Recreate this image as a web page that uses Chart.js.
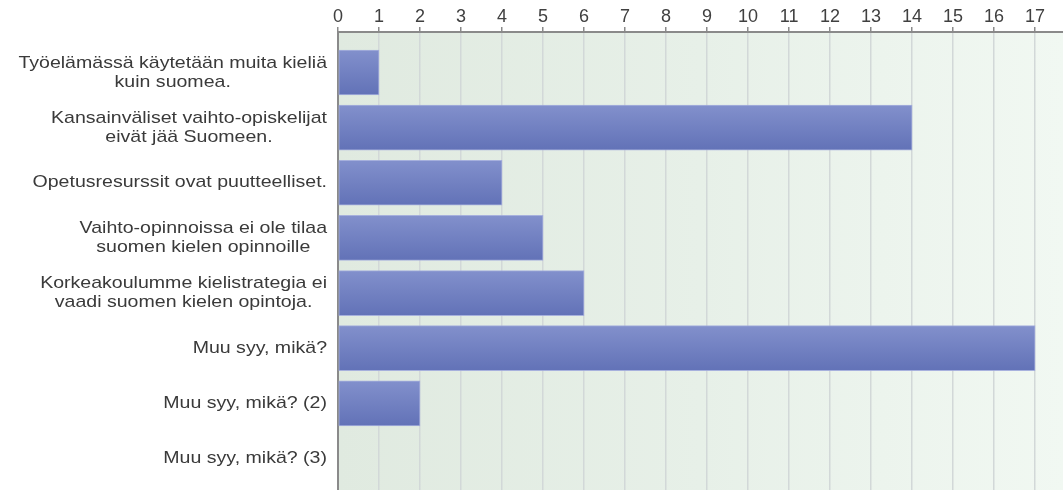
<!DOCTYPE html>
<html>
<head>
<meta charset="utf-8">
<script src="https://cdn.jsdelivr.net/npm/chart.js@4/dist/chart.umd.min.js"></script>
<style>
  html, body { margin: 0; padding: 0; background: #ffffff; }
  #wrap { width: 1063px; height: 490px; }
</style>
</head>
<body>
<div id="wrap"><canvas id="c" width="1063" height="490"></canvas></div>
<script>
// Answer options (each entry holds the lines of one label)
const categories = [
  ["Työelämässä käytetään muita kieliä", "kuin suomea."],
  ["Kansainväliset vaihto-opiskelijat", "eivät jää Suomeen."],
  ["Opetusresurssit ovat puutteelliset."],
  ["Vaihto-opinnoissa ei ole tilaa", "suomen kielen opinnoille"],
  ["Korkeakoulumme kielistrategia ei", "vaadi suomen kielen opintoja."],
  ["Muu syy, mikä?"],
  ["Muu syy, mikä? (2)"],
  ["Muu syy, mikä? (3)"]
];

// Number of responses per option
const counts = [1, 14, 4, 5, 6, 17, 2, 0];

// Value-axis ticks
const xTicks = [0, 1, 2, 3, 4, 5, 6, 7, 8, 9, 10, 11, 12, 13, 14, 15, 16, 17];

const points = counts.map((v, i) => ({ x: v, y: i }));

// Soft green plot background, lighter towards the right
const plotBackground = {
  id: 'plotBackground',
  beforeDraw(chart) {
    const { ctx, chartArea: a } = chart;
    const g = ctx.createLinearGradient(a.left, 0, a.right, 0);
    g.addColorStop(0, '#e0eae0');
    g.addColorStop(0.5, '#e7f0e8');
    g.addColorStop(1, '#f1f8f2');
    ctx.save();
    ctx.fillStyle = g;
    ctx.fillRect(a.left, a.top, a.right - a.left, a.bottom - a.top);
    ctx.restore();
  }
};

// Category labels: right-aligned blocks, lines centred within each block
const categoryLabels = {
  id: 'categoryLabels',
  afterDraw(chart) {
    const { ctx } = chart;
    const y = chart.scales.y;
    const right = 327;
    const sx = 1.15;
    const lineGap = 19;
    ctx.save();
    ctx.font = '17px "Liberation Sans", Arial, sans-serif';
    ctx.fillStyle = '#3a3a3a';
    ctx.textAlign = 'center';
    ctx.textBaseline = 'middle';
    categories.forEach((lines, i) => {
      const cy = y.getPixelForValue(i);
      const w = Math.max(...lines.map(l => ctx.measureText(l).width)) * sx;
      const cx = right - w / 2;
      lines.forEach((line, k) => {
        const ly = cy + (k - (lines.length - 1) / 2) * lineGap;
        ctx.save();
        ctx.translate(cx, ly);
        ctx.scale(sx, 1);
        ctx.fillText(line, 0, 0);
        ctx.restore();
      });
    });
    ctx.restore();
  }
};

// Vertical blue gradient for each bar, spanning the bar's own thickness
function barGradient(context) {
  const chart = context.chart;
  const ys = chart.scales && chart.scales.y;
  const fallback = '#7382c2';
  if (!ys || !context.parsed) return fallback;
  const cy = ys.getPixelForValue(context.parsed.y);
  if (!Number.isFinite(cy)) return fallback;
  const g = chart.ctx.createLinearGradient(0, cy - 22.5, 0, cy + 22.5);
  g.addColorStop(0, '#8290cc');
  g.addColorStop(1, '#6272b7');
  return g;
}

new Chart(document.getElementById('c'), {
  type: 'bar',
  data: {
    datasets: [{
      data: points,
      backgroundColor: barGradient,
      borderColor: 'rgba(160,170,220,0.9)',
      borderWidth: 1,
      borderSkipped: false,
      barThickness: 45
    }]
  },
  options: {
    indexAxis: 'y',
    responsive: false,
    devicePixelRatio: 1,
    animation: false,
    layout: { padding: 0 },
    plugins: {
      legend: { display: false },
      tooltip: { enabled: false }
    },
    scales: {
      x: {
        type: 'linear',
        position: 'top',
        min: 0,
        max: 17.68,
        afterBuildTicks(scale) { scale.ticks = xTicks.map(v => ({ value: v })); },
        afterFit(scale) { scale.height = 32; },
        ticks: {
          stepSize: 1,
          includeBounds: false,
          color: '#404040',
          padding: -1,
          font: { family: '"Liberation Sans", Arial, sans-serif', size: 18, lineHeight: 1.2 }
        },
        grid: {
          color: '#d2d8d8',
          lineWidth: 1.5,
          tickLength: 5,
          tickColor: '#8a8a8a',
          tickWidth: 1.5
        },
        border: { color: '#8a8a8a', width: 2 }
      },
      y: {
        type: 'linear',
        reverse: true,
        offset: false,
        min: -0.7345,
        max: 7.572,
        afterFit(scale) { scale.width = 338; },
        ticks: { display: false },
        grid: { display: false, offset: false },
        border: { color: '#8a8a8a', width: 2 }
      }
    }
  },
  plugins: [plotBackground, categoryLabels]
});
</script>
</body>
</html>
